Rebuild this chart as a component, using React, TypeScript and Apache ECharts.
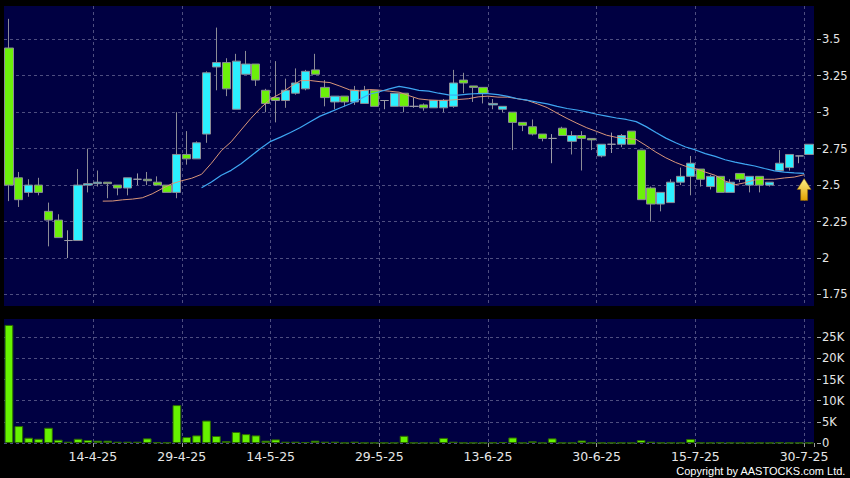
import React, { useEffect, useRef } from 'react';
import * as echarts from 'echarts';

const dates = [
  '31-3-25',
  '1-4-25', '2-4-25', '3-4-25', '7-4-25', '8-4-25', '9-4-25', '10-4-25', '11-4-25', '14-4-25', '15-4-25',
  '16-4-25', '17-4-25', '22-4-25', '23-4-25', '24-4-25', '25-4-25', '28-4-25', '29-4-25', '30-4-25',
  '2-5-25', '6-5-25', '7-5-25', '8-5-25', '9-5-25', '12-5-25', '13-5-25', '14-5-25', '15-5-25', '16-5-25',
  '19-5-25', '20-5-25', '21-5-25', '22-5-25', '23-5-25', '26-5-25', '27-5-25', '28-5-25', '29-5-25', '30-5-25',
  '2-6-25', '3-6-25', '4-6-25', '5-6-25', '6-6-25', '9-6-25', '10-6-25', '11-6-25', '12-6-25', '13-6-25',
  '16-6-25', '17-6-25', '18-6-25', '19-6-25', '20-6-25', '23-6-25', '24-6-25', '25-6-25', '26-6-25', '27-6-25', '30-6-25',
  '2-7-25', '3-7-25', '4-7-25', '7-7-25', '8-7-25', '9-7-25', '10-7-25', '11-7-25', '14-7-25', '15-7-25',
  '16-7-25', '17-7-25', '18-7-25', '21-7-25', '22-7-25', '23-7-25', '24-7-25', '25-7-25', '28-7-25', '29-7-25', '30-7-25',
];

const labelDates = ['14-4-25', '29-4-25', '14-5-25', '29-5-25', '13-6-25', '30-6-25', '15-7-25', '30-7-25'];

const opens = [
  3.44, 2.55, 2.45, 2.50, 2.32, 2.26, 2.12, 2.12, 2.50, 2.51,
  2.52, 2.50, 2.48, 2.54, 2.54, 2.52, 2.50, 2.45, 2.71, 2.68,
  2.85, 3.31, 3.34, 3.02, 3.26, 3.33, 3.15, 3.10, 3.08, 3.13,
  3.16, 3.29, 3.17, 3.07, 3.11, 3.07, 3.06, 3.15, 3.08, 3.04,
  3.13, 3.04, 3.05, 3.03, 3.03, 3.04, 3.22, 3.18, 3.17, 3.05,
  3.02, 3.00, 2.93, 2.90, 2.85, 2.82, 2.89, 2.80, 2.84, 2.82,
  2.70, 2.78, 2.78, 2.87, 2.74, 2.48, 2.37, 2.38, 2.52, 2.56,
  2.61, 2.49, 2.56, 2.45, 2.58, 2.50, 2.56, 2.50, 2.60, 2.62,
  2.70, 2.71,
];
const closes = [
  2.50, 2.40, 2.50, 2.45, 2.26, 2.14, 2.12, 2.50, 2.51, 2.52,
  2.51, 2.48, 2.55, 2.54, 2.53, 2.50, 2.45, 2.71, 2.68, 2.79,
  3.27, 3.34, 3.16, 3.35, 3.33, 3.22, 3.06, 3.08, 3.15, 3.20,
  3.28, 3.26, 3.10, 3.11, 3.07, 3.15, 3.15, 3.04, 3.08, 3.13,
  3.04, 3.04, 3.03, 3.08, 3.08, 3.20, 3.20, 3.17, 3.13, 3.06,
  3.04, 2.93, 2.91, 2.85, 2.82, 2.82, 2.84, 2.84, 2.82, 2.81,
  2.78, 2.78, 2.84, 2.78, 2.40, 2.37, 2.45, 2.52, 2.56, 2.65,
  2.54, 2.56, 2.45, 2.52, 2.54, 2.56, 2.50, 2.52, 2.65, 2.71,
  2.70, 2.78,
];
const lows = [
  2.39, 2.35, 2.42, 2.43, 2.08, 2.14, 2.00, 2.12, 2.45, 2.49,
  2.41, 2.43, 2.43, 2.50, 2.50, 2.50, 2.45, 2.41, 2.64, 2.68,
  2.79, 3.15, 3.11, 3.02, 3.26, 3.18, 3.00, 2.93, 3.03, 3.12,
  3.15, 3.26, 3.04, 3.02, 3.04, 3.05, 3.06, 3.04, 3.02, 3.04,
  3.00, 3.03, 3.01, 3.03, 3.00, 3.03, 3.13, 3.07, 3.06, 3.02,
  3.00, 2.74, 2.87, 2.84, 2.80, 2.65, 2.84, 2.71, 2.60, 2.74,
  2.69, 2.72, 2.76, 2.78, 2.40, 2.25, 2.32, 2.38, 2.50, 2.43,
  2.49, 2.47, 2.45, 2.45, 2.52, 2.45, 2.45, 2.49, 2.60, 2.60,
  2.65, 2.71,
];
const highs = [
  3.64, 2.59, 2.54, 2.55, 2.38, 2.30, 2.19, 2.61, 2.75, 2.60,
  2.52, 2.50, 2.55, 2.58, 2.59, 2.56, 2.50, 3.00, 2.87, 2.80,
  3.28, 3.58, 3.37, 3.40, 3.42, 3.33, 3.16, 3.35, 3.23, 3.30,
  3.29, 3.40, 3.22, 3.11, 3.11, 3.18, 3.18, 3.15, 3.08, 3.13,
  3.13, 3.10, 3.06, 3.08, 3.09, 3.29, 3.27, 3.18, 3.17, 3.09,
  3.04, 3.00, 2.93, 2.95, 2.85, 2.85, 2.90, 2.87, 2.87, 2.82,
  2.78, 2.86, 2.85, 2.87, 2.74, 2.49, 2.45, 2.54, 2.62, 2.70,
  2.61, 2.57, 2.56, 2.54, 2.58, 2.56, 2.56, 2.52, 2.74, 2.71,
  2.70, 2.78,
];

const volumes = [
  27900, 4000, 1250, 1000, 3600, 780, 300, 1000, 700, 550,
  550, 300, 300, 300, 1100, 150, 100, 8950, 1400, 1800,
  5300, 1650, 450, 2600, 2100, 1800, 550, 850, 300, 300,
  200, 550, 300, 300, 50, 300, 50, 50, 50, 50,
  1700, 50, 50, 50, 1200, 300, 50, 50, 50, 100,
  200, 1300, 50, 400, 50, 1100, 50, 50, 600, 50,
  30, 30, 50, 30, 700, 300, 50, 50, 50, 950,
  50, 50, 100, 50, 30, 30, 30, 30, 100, 30,
  30, 30,
];

// 10-day and 20-day moving averages as drawn (one value per day, up to 29-7-25)
const ma10 = [
  null, null, null, null, null, null, null, null, null,
  2.390, 2.391, 2.399, 2.404, 2.413, 2.440, 2.476, 2.509, 2.530, 2.547, 2.574,
  2.650, 2.736, 2.797, 2.878, 2.958, 3.030, 3.091, 3.128, 3.175, 3.216,
  3.217, 3.209, 3.203, 3.179, 3.153, 3.146, 3.155, 3.151, 3.144, 3.137,
  3.113, 3.091, 3.084, 3.081, 3.082, 3.087, 3.092, 3.105, 3.110, 3.103,
  3.103, 3.092, 3.080, 3.057, 3.031, 2.993, 2.957, 2.924, 2.893, 2.868,
  2.842, 2.827, 2.820, 2.813, 2.771, 2.726, 2.687, 2.655, 2.629, 2.613,
  2.589, 2.567, 2.528, 2.502, 2.516, 2.535, 2.540, 2.540, 2.549, 2.555, 2.571,
];
const ma20 = [
  null, null, null, null, null, null, null, null, null, null,
  null, null, null, null, null, null, null, null, null,
  2.482,
  2.521, 2.568, 2.601, 2.646, 2.699, 2.753, 2.800, 2.829, 2.861, 2.895,
  2.934, 2.973, 3.000, 3.029, 3.056, 3.088, 3.123, 3.140, 3.160, 3.177,
  3.165, 3.150, 3.144, 3.130, 3.118, 3.117, 3.124, 3.128, 3.127, 3.120,
  3.108, 3.092, 3.082, 3.069, 3.057, 3.040, 3.025, 3.015, 3.002, 2.986,
  2.973, 2.960, 2.950, 2.935, 2.901, 2.860, 2.822, 2.790, 2.761, 2.741,
  2.716, 2.697, 2.674, 2.658, 2.644, 2.631, 2.614, 2.598, 2.589, 2.584, 2.580,
];

const priceTicks = [1.75, 2, 2.25, 2.5, 2.75, 3, 3.25, 3.5];
const volumeTicks = [0, 5000, 10000, 15000, 20000, 25000];
const arrowDate = '29-7-25';
const arrowPrice = 2.47;

const FONT = 'DejaVu Sans';
const NAVY = '#000042';
const GRID_LINE = '#4e4e80';
const TEXT = '#e6e6e6';

export default function App() {
  const ref = useRef<HTMLDivElement>(null);

  useEffect(() => {
    if (!ref.current) return;
    const chart = echarts.init(ref.current, null, { renderer: 'svg' });

    const isLabel = (i: number) => labelDates.includes(dates[i]);
    const dashed = { show: true, showMaxLine: false, interval: isLabel, lineStyle: { color: GRID_LINE, type: [3, 3], width: 1 } };
    const shiftedCats = [''].concat(dates);

    const option: any = {
      animation: false,
      backgroundColor: '#000',
      grid: [
        { left: 4, top: 6, width: 810, height: 300, show: true, backgroundColor: NAVY, borderWidth: 0, outerBoundsMode: 'none', containLabel: false },
        { left: 4, top: 319, width: 810, height: 124, show: true, backgroundColor: NAVY, borderWidth: 0, outerBoundsMode: 'none', containLabel: false },
      ],
      xAxis: [
        {
          type: 'category', gridIndex: 0, data: dates, boundaryGap: true,
          axisLine: { show: false }, axisTick: { show: false }, axisLabel: { show: false },
          splitLine: dashed,
        },
        {
          type: 'category', gridIndex: 1, data: dates, boundaryGap: true,
          axisLine: { show: false },
          axisTick: { show: true, interval: isLabel, length: 4, lineStyle: { color: '#9a9a9a' } },
          axisLabel: { show: true, interval: isLabel, color: TEXT, fontSize: 12.5, fontFamily: FONT, margin: 7, padding: [0, 10, 0, 0] },
          splitLine: dashed,
        },
        {
          type: 'category', gridIndex: 0, data: shiftedCats, boundaryGap: false, show: false,
        },
      ],
      yAxis: [
        {
          type: 'value', gridIndex: 0, position: 'right', offset: 3,
          min: 1.671, max: 3.728, minInterval: 0.25, maxInterval: 0.25, splitNumber: 8,
          axisLine: { show: false },
          axisTick: { show: true, length: 4, customValues: priceTicks, lineStyle: { color: '#aaaaaa' } },
          axisLabel: {
            color: TEXT, fontSize: 11.5, fontFamily: FONT, margin: 5, customValues: priceTicks,
            formatter: (v: number) => (priceTicks.some((t) => Math.abs(t - v) < 1e-6) ? String(v) : ''),
          },
          splitLine: { show: true, lineStyle: { color: GRID_LINE, type: [3, 3], width: 1 } },
        },
        {
          type: 'value', gridIndex: 1, position: 'right', offset: 3,
          min: 0, max: 29300, minInterval: 5000, maxInterval: 5000, splitNumber: 6,
          axisLine: { show: false },
          axisTick: { show: true, length: 4, customValues: volumeTicks, lineStyle: { color: '#aaaaaa' } },
          axisLabel: {
            color: TEXT, fontSize: 11.5, fontFamily: FONT, margin: 5, customValues: volumeTicks,
            formatter: (v: number) => {
              if (!volumeTicks.includes(v)) return '';
              return v === 0 ? '0' : v / 1000 + 'K';
            },
          },
          splitLine: { show: true, lineStyle: { color: GRID_LINE, type: [3, 3], width: 1 } },
        },
      ],
      series: [
        {
          type: 'candlestick', xAxisIndex: 0, yAxisIndex: 0, barWidth: '88%',
          data: dates.map((_, i) => [opens[i], closes[i], lows[i], highs[i]]),
          itemStyle: {
            color: '#2cf0ff', color0: '#6cf00a',
            borderColor: '#8c8c96', borderColor0: '#8c8c96', borderColorDoji: '#9c9ca6', borderWidth: 1,
          },
        },
        {
          type: 'line', name: 'MA10', xAxisIndex: 2, yAxisIndex: 0,
          data: [null].concat(ma10 as any),
          showSymbol: false, symbol: 'none', connectNulls: false,
          lineStyle: { color: '#d9967a', width: 1 },
          z: 3,
          markPoint: {
            symbol: 'path://M7,0 L14,11 L10.5,11 L10.5,22 L3.5,22 L3.5,11 L0,11 Z',
            symbolSize: [14, 22],
            label: { show: false },
            itemStyle: {
              color: new echarts.graphic.LinearGradient(0, 0, 0, 1, [
                { offset: 0, color: '#fff38a' },
                { offset: 1, color: '#e0a000' },
              ]),
              borderColor: '#8a6200', borderWidth: 0.5,
            },
            data: [{ coord: [arrowDate, arrowPrice] }],
          },
        },
        {
          type: 'line', name: 'MA20', xAxisIndex: 2, yAxisIndex: 0,
          data: [null].concat(ma20 as any),
          showSymbol: false, symbol: 'none', connectNulls: false,
          lineStyle: { color: '#3ea6f2', width: 1.2 },
          z: 3,
        },
        {
          type: 'bar', xAxisIndex: 1, yAxisIndex: 1, barWidth: '88%',
          data: volumes,
          itemStyle: { color: '#66f200', borderColor: '#2d6a00', borderWidth: 1 },
        },
      ],
      graphic: [
        {
          type: 'text', right: 4, top: 465,
          style: { text: 'Copyright by AASTOCKS.com Ltd.', fill: '#ffffff', font: '11px "Liberation Sans"' },
        },
      ],
    };

    chart.setOption(option);
    return () => chart.dispose();
  }, []);

  return (
    <div
      ref={ref}
      style={{ position: 'fixed', left: 0, top: 0, width: 850, height: 478, background: '#000' }}
    />
  );
}
